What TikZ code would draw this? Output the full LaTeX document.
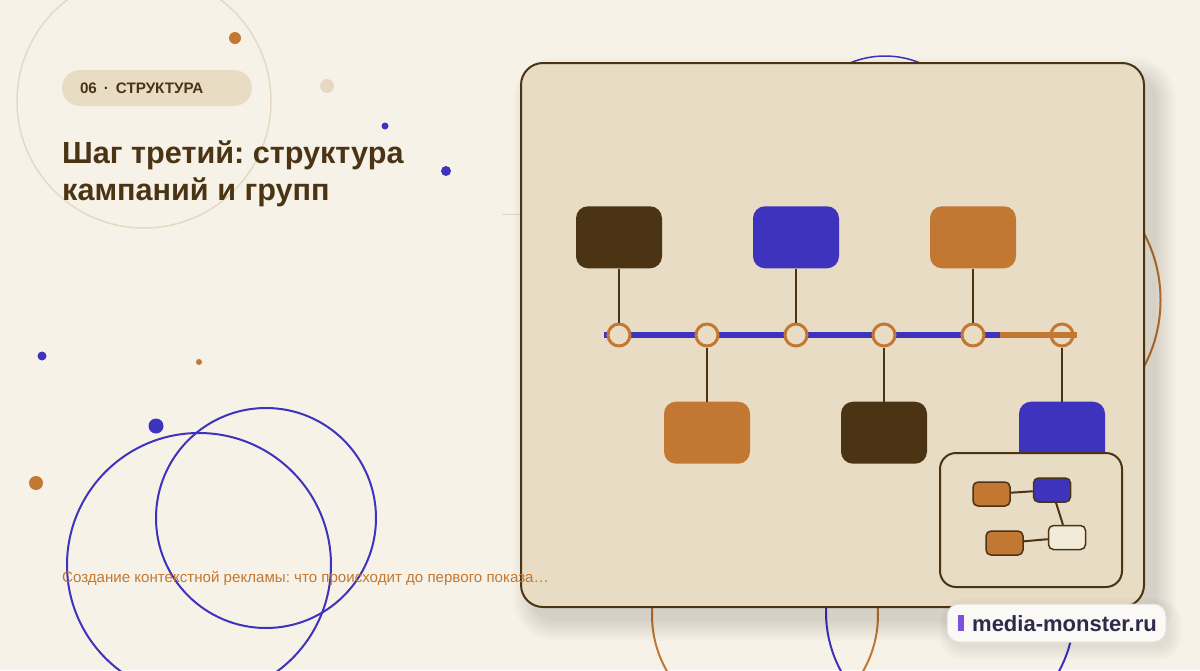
\documentclass[tikz,border=0pt]{standalone}
\usepackage{fontspec}
\setmainfont{Liberation Sans}
\usepackage{tikz}
\usetikzlibrary{positioning}
\frenchspacing

\definecolor{bgcream}{HTML}{F7F2E8}
\definecolor{panelbeige}{HTML}{E8DCC5}
\definecolor{darkbrown}{HTML}{4A3414}
\definecolor{inkblue}{HTML}{3D33BD}
\definecolor{rust}{HTML}{C27832}
\definecolor{ringbeige}{HTML}{E6D9C3}
\definecolor{hairline}{HTML}{DDD6CA}
\definecolor{palecard}{HTML}{F3EBDA}
\definecolor{markpurple}{HTML}{7B4FE0}
\definecolor{marknavy}{HTML}{2E2A4A}
\definecolor{markfill}{HTML}{FBF9F6}
\definecolor{markedge}{HTML}{E2DDD5}

\begin{document}
\begin{tikzpicture}[x=1pt, y=-1pt,
    panel/.style={draw=darkbrown, line width=2pt, fill=panelbeige, rounded corners=22pt,
      minimum width=623pt, minimum height=544pt, inner sep=0pt},
    softshade/.style={black, opacity=0.013},
    card/.style={rounded corners=12pt, minimum width=86pt, minimum height=62pt, inner sep=0pt},
    waypoint/.style={circle, draw=rust, line width=3pt, fill=panelbeige, minimum size=22pt, inner sep=0pt},
    stem/.style={darkbrown, line width=2pt},
    minicard/.style={draw=darkbrown, line width=1.5pt, rounded corners=5pt,
      minimum width=37pt, minimum height=24pt, inner sep=0pt},
    minilink/.style={darkbrown, line width=2pt},
    ring/.style={line width=2pt}]

  \useasboundingbox (0,0) rectangle (1200,670);
  \clip (0,0) rectangle (1200,670);
  \fill[bgcream] (0,0) rectangle (1200,670);

  \draw[ringbeige, line width=1.5pt] (144,101) circle[radius=127];
  \fill[rust] (235,38) circle[radius=6];
  \fill[ringbeige] (327,86) circle[radius=7];
  \fill[inkblue] (385,126) circle[radius=3.5];
  \fill[inkblue] (446,171) circle[radius=5];
  \fill[inkblue] (42,356) circle[radius=4.5];
  \fill[rust] (199,362) circle[radius=3];
  \fill[inkblue] (156,426) circle[radius=7.5];
  \fill[rust] (36,483) circle[radius=7];

  \draw[inkblue, ring] (199,565) circle[radius=132];
  \draw[inkblue, ring] (266,518) circle[radius=110];

  \node[fill=panelbeige, rounded corners=18pt, minimum width=190pt, minimum height=36pt] (tag) at (157,88) {};
  \node[anchor=west, inner sep=0pt, text=darkbrown, font=\fontsize{15.2}{18}\selectfont\bfseries]
    (tagtext) at ([xshift=18pt]tag.west) {06\hspace{7pt}·\hspace{7pt}СТРУКТУРА};

  \node[anchor=base west, inner sep=0pt, text=darkbrown, font=\fontsize{30.6}{37}\selectfont\bfseries]
    (title1) at (62,163) {Шаг третий: структура};
  \node[anchor=base west, inner sep=0pt, text=darkbrown, font=\fontsize{30.6}{37}\selectfont\bfseries]
    (title2) at (62,200) {кампаний и групп};

  \draw[inkblue, line width=1.5pt] (885,147) circle[radius=91];
  \draw[rust, ring] (1018,300) circle[radius=142.5];
  \draw[rust, ring] (765,615) circle[radius=113];
  \draw[inkblue, ring] (950,612) circle[radius=124];
  \draw[hairline, line width=1pt] (502,214) -- (521,214);

  \foreach \k [evaluate=\k as \r using 22+\k] in {0,2,...,20}
    \fill[softshade, rounded corners=\r pt] (533-\k,77-\k) rectangle (1156+\k,621+\k);
  \node[panel] (panel) at (832.5,335) {};

  \node[anchor=base west, inner sep=0pt, text=rust, font=\fontsize{15.1}{18}\selectfont]
    (teaser) at (62,582) {Создание контекстной рекламы: что происходит до первого показа…};

  \coordinate (tlstart) at (604,335);
  \coordinate (tlsplit) at (1000,335);
  \coordinate (tlend) at (1077,335);
  \draw[inkblue, line width=6pt] (tlstart) -- (tlsplit);
  \foreach \i/\x in {1/619,2/707,3/796,4/884,5/973,6/1062}
    \node[waypoint] (s\i) at (\x,335) {};
  \draw[rust, line width=6pt] (tlsplit) -- (tlend);

  \node[card, fill=darkbrown, above=54pt of s1] (c1) {};
  \node[card, fill=rust, below=54pt of s2] (c2) {};
  \node[card, fill=inkblue, above=54pt of s3] (c3) {};
  \node[card, fill=darkbrown, below=54pt of s4] (c4) {};
  \node[card, fill=rust, above=54pt of s5] (c5) {};
  \node[card, fill=inkblue, below=54pt of s6] (c6) {};
  \foreach \i in {1,...,6}
    \draw[stem] (c\i) -- (s\i);

  \node[draw=darkbrown, line width=2pt, fill=panelbeige, rounded corners=16pt,
    minimum width=182pt, minimum height=134pt] (inset) at (1031,520) {};
  \node[minicard, fill=rust] (m1) at (991.5,494) {};
  \node[minicard, fill=inkblue] (m2) at (1052,490) {};
  \node[minicard, fill=rust] (m3) at (1004.5,543) {};
  \node[minicard, fill=palecard] (m4) at (1067,537.5) {};
  \draw[minilink] (m1) -- (m2);
  \draw[minilink] (m2) -- (m4);
  \draw[minilink] (m3) -- (m4);

  \foreach \k [evaluate=\k as \r using 12+\k] in {0,2,...,12}
    \fill[softshade, rounded corners=\r pt] (951-\k,610-\k) rectangle (1170+\k,648+\k);
  \node[draw=markedge, line width=1pt, fill=markfill, rounded corners=12pt,
    minimum width=219pt, minimum height=38pt] (mark) at (1056.5,623) {};
  \node[fill=markpurple, minimum width=6pt, minimum height=16pt, inner sep=0pt] (markbar) at (961,623) {};
  \node[anchor=base west, inner sep=0pt, text=marknavy, font=\fontsize{22}{26}\selectfont\bfseries]
    (marktext) at (972,631) {media-monster.ru};
\end{tikzpicture}
\end{document}
